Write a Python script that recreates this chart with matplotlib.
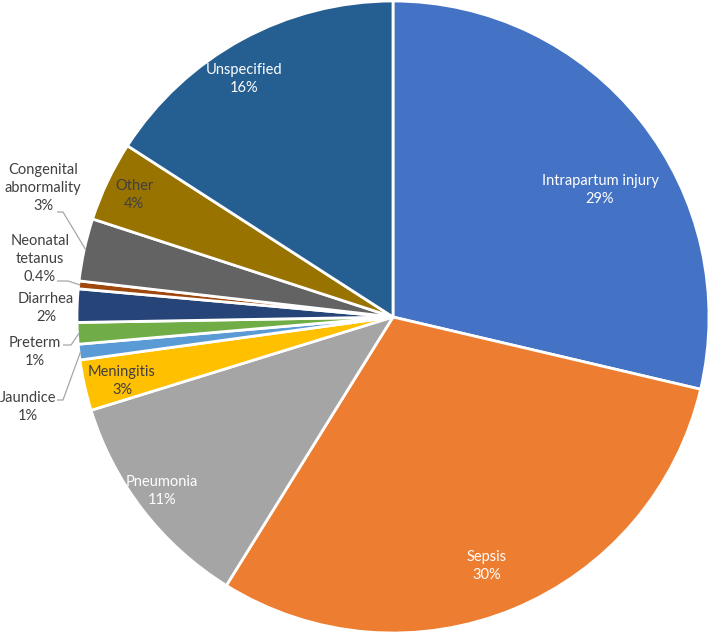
import numpy as np
import matplotlib
matplotlib.use("Agg")
import matplotlib.pyplot as plt

# ---- data ----
categories = ["Intrapartum injury", "Sepsis", "Pneumonia", "Meningitis", "Jaundice",
              "Preterm", "Diarrhea", "Neonatal\ntetanus", "Congenital\nabnormality",
              "Other", "Unspecified"]
values = [28.7, 30.2, 11.4, 2.6, 0.8, 1.1, 1.7, 0.4, 3.2, 4.1, 15.9]
pct_labels = ["29%", "30%", "11%", "3%", "1%", "1%", "2%", "0.4%", "3%", "4%", "16%"]

# ---- styles ----
colors = ["#4472C4", "#ED7D31", "#A5A5A5", "#FFC000", "#5B9BD5", "#70AD47",
          "#264478", "#9E480E", "#636363", "#997300", "#255E91"]
text_colors = ["white", "white", "white", "#404040", "#404040", "#404040",
               "#404040", "#404040", "#404040", "#404040", "white"]

W, H = 712, 633
CX, CY, R = 393, 317, 316

# label positions in pixels (layout)
label_px = [(600, 190), (487, 566), (162, 491), (122, 381), (28, 407), (35, 352),
            (46, 308), (40, 259), (43, 188), (134, 195), (244, 79)]
# leader lines: start point and elbow (pixels) for outside labels
leaders = {4: [(57, 400), (63, 400)],
           5: [(63, 345), (71, 345)],
           7: [(57, 281), (68, 281)],
           8: [(57, 212), (63, 212)]}

plt.rcParams['font.family'] = ['Lato', 'DejaVu Sans']

fig = plt.figure(figsize=(W / 100, H / 100), dpi=100)
ax = fig.add_axes([(CX - R) / W, (H - CY - R) / H, 2 * R / W, 2 * R / H])
ax.set_xlim(-1, 1)
ax.set_ylim(-1, 1)
ax.set_aspect('equal')
ax.axis('off')

wedges, _ = ax.pie(values, colors=colors, startangle=90, counterclock=False,
                   radius=1, center=(0, 0),
                   wedgeprops=dict(edgecolor='white', linewidth=2))
ax.set_xlim(-1, 1)
ax.set_ylim(-1, 1)


def to_data(px, py):
    return (px - CX) / R, (CY - py) / R


for i, (cat, pct) in enumerate(zip(categories, pct_labels)):
    x, y = to_data(*label_px[i])
    ax.text(x, y, f"{cat}\n{pct}", ha='center', va='center', fontsize=10.5,
            color=text_colors[i], linespacing=1.35)

for i, pts in leaders.items():
    w = wedges[i]
    mid = np.deg2rad((w.theta1 + w.theta2) / 2)
    ex, ey = np.cos(mid) * 0.995, np.sin(mid) * 0.995
    xs = [to_data(*p)[0] for p in pts] + [ex]
    ys = [to_data(*p)[1] for p in pts] + [ey]
    ax.plot(xs, ys, color='#A6A6A6', lw=0.9, solid_capstyle='butt', clip_on=False)

fig.savefig("out.png", dpi=100, facecolor='white')
